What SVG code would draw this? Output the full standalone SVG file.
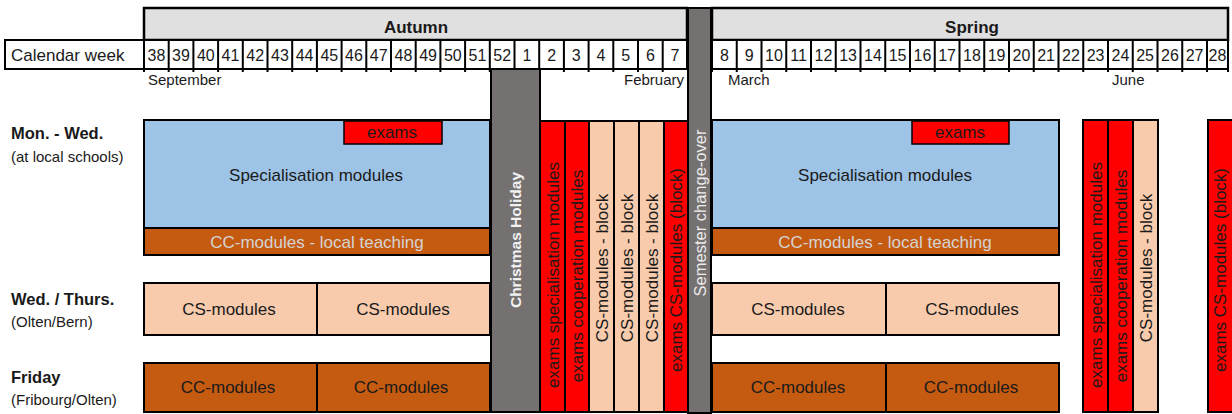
<svg xmlns="http://www.w3.org/2000/svg" width="1232" height="414" viewBox="0 0 1232 414">
<style>
text{font-family:"Liberation Sans",Arial,sans-serif;fill:#1a1a1a}
.b{stroke:#000;stroke-width:2}
.hdr{fill:#e0e0e0;stroke:#000;stroke-width:2.5}
.wk{fill:#fff;stroke:#000;stroke-width:2}
.div{stroke:#000;stroke-width:2}
.wn{font-size:16px;text-anchor:middle}
.mon{font-size:15px}
.lbl{font-size:16.5px;font-weight:bold}
.sub{font-size:15px}
.blue{fill:#9dc3e6}
.brown{fill:#c55a11}
.peach{fill:#f8cbad}
.red{fill:#ff0000}
.grey{fill:#767171}
.t17{font-size:17px;text-anchor:middle}
.vt{font-size:17px;text-anchor:middle}
.wh{fill:#f2f2f2}
</style>

<g id="header">
<rect class="hdr" x="144" y="8" width="543" height="32"/>
<rect class="hdr" x="712" y="8" width="516" height="32"/>
<text x="416" y="33" style="font-size:17px;font-weight:bold;text-anchor:middle">Autumn</text>
<text x="972" y="33" style="font-size:17px;font-weight:bold;text-anchor:middle">Spring</text>
</g>

<g id="weeks">
<rect class="wk" x="5" y="40" width="682" height="29"/>
<rect class="wk" x="712" y="40" width="516" height="29"/>
<text x="11" y="61" style="font-size:17px">Calendar week</text>
<path class="div" d="M144,40V72M168.7,40V72M193.4,40V72M218.1,40V72M242.8,40V72M267.5,40V72M292.2,40V72M316.9,40V72M341.6,40V72M366.3,40V72M391,40V72M415.7,40V72M440.4,40V72M465.1,40V72M489.8,40V72M514.5,40V72M539.2,40V72M563.9,40V72M588.6,40V72M613.3,40V72M638,40V72M662.7,40V72M712,40V72M736.75,40V72M761.5,40V72M786.25,40V72M811,40V72M835.75,40V72M860.5,40V72M885.25,40V72M910,40V72M934.75,40V72M959.5,40V72M984.25,40V72M1009,40V72M1033.75,40V72M1058.5,40V72M1083.25,40V72M1108,40V72M1132.75,40V72M1157.5,40V72M1182.25,40V72M1207,40V72M1228,40V72"/>
<g class="wn">
<text class="wn" x="156.4" y="61">38</text>
<text class="wn" x="181" y="61">39</text>
<text class="wn" x="205.8" y="61">40</text>
<text class="wn" x="230.5" y="61">41</text>
<text class="wn" x="255.2" y="61">42</text>
<text class="wn" x="279.9" y="61">43</text>
<text class="wn" x="304.6" y="61">44</text>
<text class="wn" x="329.3" y="61">45</text>
<text class="wn" x="354" y="61">46</text>
<text class="wn" x="378.7" y="61">47</text>
<text class="wn" x="403.4" y="61">48</text>
<text class="wn" x="428.1" y="61">49</text>
<text class="wn" x="452.8" y="61">50</text>
<text class="wn" x="477.5" y="61">51</text>
<text class="wn" x="502.2" y="61">52</text>
<text class="wn" x="526.9" y="61">1</text>
<text class="wn" x="551.6" y="61">2</text>
<text class="wn" x="576.3" y="61">3</text>
<text class="wn" x="601" y="61">4</text>
<text class="wn" x="625.7" y="61">5</text>
<text class="wn" x="650.4" y="61">6</text>
<text class="wn" x="675" y="61">7</text>
<text class="wn" x="724.4" y="61">8</text>
<text class="wn" x="749.1" y="61">9</text>
<text class="wn" x="773.9" y="61">10</text>
<text class="wn" x="798.6" y="61">11</text>
<text class="wn" x="823.4" y="61">12</text>
<text class="wn" x="848.1" y="61">13</text>
<text class="wn" x="872.9" y="61">14</text>
<text class="wn" x="897.6" y="61">15</text>
<text class="wn" x="922.4" y="61">16</text>
<text class="wn" x="947.1" y="61">17</text>
<text class="wn" x="971.9" y="61">18</text>
<text class="wn" x="996.6" y="61">19</text>
<text class="wn" x="1021.4" y="61">20</text>
<text class="wn" x="1046.1" y="61">21</text>
<text class="wn" x="1070.9" y="61">22</text>
<text class="wn" x="1095.6" y="61">23</text>
<text class="wn" x="1120.4" y="61">24</text>
<text class="wn" x="1145.1" y="61">25</text>
<text class="wn" x="1169.9" y="61">26</text>
<text class="wn" x="1194.6" y="61">27</text>
<text class="wn" x="1217.5" y="61">28</text>
</g>
<text class="mon" x="148" y="85">September</text>
<text class="mon" x="684" y="85" text-anchor="end">February</text>
<text class="mon" x="728" y="85">March</text>
<text class="mon" x="1112" y="85">June</text>
</g>

<g id="row-labels">
<text class="lbl" x="11" y="139">Mon. - Wed.</text>
<text class="sub" x="11" y="162">(at local schools)</text>
<text class="lbl" x="11" y="305">Wed. / Thurs.</text>
<text class="sub" x="11" y="327">(Olten/Bern)</text>
<text class="lbl" x="11" y="383">Friday</text>
<text class="sub" x="11" y="405">(Fribourg/Olten)</text>
</g>

<g id="autumn-blocks">
<rect class="blue b" x="144" y="120" width="346" height="108"/>
<rect class="red" x="344" y="121" width="98" height="23" stroke="#000" stroke-width="1.5"/>
<text class="t17" x="392" y="138">exams</text>
<text class="t17" x="316" y="181">Specialisation modules</text>
<rect class="brown b" x="144" y="228" width="346" height="27"/>
<text class="t17" x="317" y="248" style="fill:#d4d4d4">CC-modules - local teaching</text>
<rect class="peach b" x="144" y="283" width="173" height="52"/>
<rect class="peach b" x="317" y="283" width="173" height="52"/>
<text class="t17" x="229" y="315">CS-modules</text>
<text class="t17" x="403" y="315">CS-modules</text>
<rect class="brown b" x="144" y="363" width="173" height="49"/>
<rect class="brown b" x="317" y="363" width="173" height="49"/>
<text class="t17" x="228" y="393">CC-modules</text>
<text class="t17" x="401" y="393">CC-modules</text>
</g>

<g id="christmas">
<rect class="grey b" x="491" y="69" width="49" height="343"/>
<text transform="translate(515,240) rotate(-90)" y="5.5" style="font-size:15.5px;font-weight:bold;text-anchor:middle;fill:#f2f2f2">Christmas Holiday</text>
</g>

<g id="block-weeks">
<rect class="red b" x="540" y="121" width="25" height="291"/>
<rect class="red b" x="565" y="121" width="24" height="291"/>
<rect class="peach b" x="589" y="121" width="25" height="291"/>
<rect class="peach b" x="614" y="121" width="25" height="291"/>
<rect class="peach b" x="639" y="121" width="25" height="291"/>
<rect class="red b" x="664" y="121" width="24" height="291"/>
<text class="vt" transform="translate(552.5,275) rotate(-90)" y="6">exams specialisation modules</text>
<text class="vt" transform="translate(577,276) rotate(-90)" y="6">exams cooperation modules</text>
<text class="vt" transform="translate(601.5,268) rotate(-90)" y="6">CS-modules - block</text>
<text class="vt" transform="translate(626.5,268) rotate(-90)" y="6">CS-modules - block</text>
<text class="vt" transform="translate(651.5,268) rotate(-90)" y="6">CS-modules - block</text>
<text class="vt" transform="translate(676,270) rotate(-90)" y="6">exams CS-modules (block)</text>
</g>

<g id="semester-change">
<rect class="grey b" x="688" y="8" width="23" height="405"/>
<text transform="translate(700,213) rotate(-90)" y="6" style="font-size:16.5px;text-anchor:middle;fill:#ececec">Semester change-over</text>
</g>

<g id="spring-blocks">
<rect class="blue b" x="712" y="120" width="347" height="108"/>
<rect class="red" x="912" y="121" width="97" height="23" stroke="#000" stroke-width="1.5"/>
<text class="t17" x="960" y="138">exams</text>
<text class="t17" x="885" y="181">Specialisation modules</text>
<rect class="brown b" x="712" y="228" width="347" height="27"/>
<text class="t17" x="885" y="248" style="fill:#d4d4d4">CC-modules - local teaching</text>
<rect class="peach b" x="712" y="283" width="174" height="52"/>
<rect class="peach b" x="886" y="283" width="173" height="52"/>
<text class="t17" x="798" y="315">CS-modules</text>
<text class="t17" x="972" y="315">CS-modules</text>
<rect class="brown b" x="712" y="363" width="174" height="49"/>
<rect class="brown b" x="886" y="363" width="173" height="49"/>
<text class="t17" x="798" y="393">CC-modules</text>
<text class="t17" x="971" y="393">CC-modules</text>
</g>

<g id="june-block">
<rect class="red b" x="1083" y="120" width="25" height="292"/>
<rect class="red b" x="1108" y="120" width="25" height="292"/>
<rect class="peach b" x="1133" y="120" width="25" height="292"/>
<rect class="red b" x="1208" y="120" width="30" height="292"/>
<text class="vt" transform="translate(1095.5,275) rotate(-90)" y="6">exams specialisation modules</text>
<text class="vt" transform="translate(1120.5,276) rotate(-90)" y="6">exams cooperation modules</text>
<text class="vt" transform="translate(1145.5,268) rotate(-90)" y="6">CS-modules - block</text>
<text class="vt" transform="translate(1220,270) rotate(-90)" y="6">exams CS-modules (block)</text>
</g>
</svg>
